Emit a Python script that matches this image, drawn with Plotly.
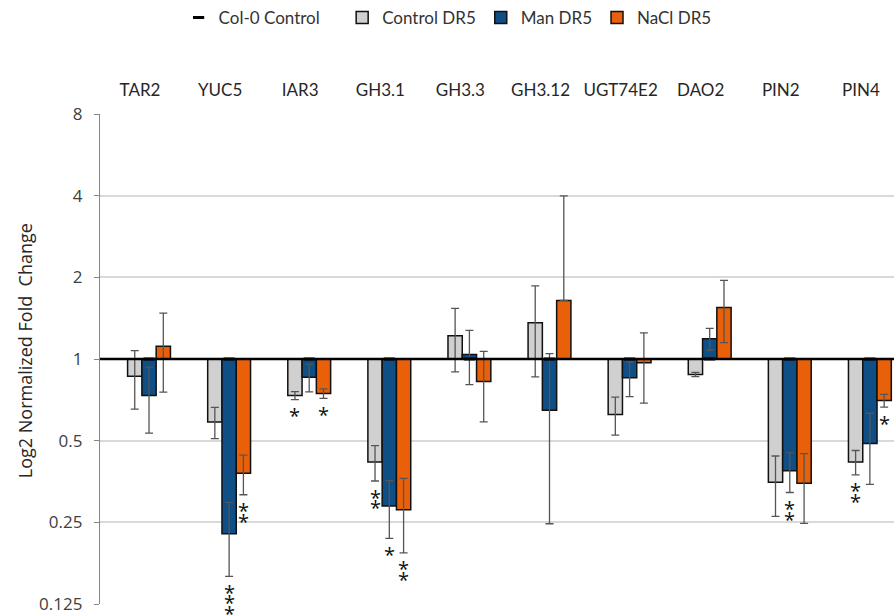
import numpy as np
import plotly.graph_objects as go

# Relative expression of auxin-related genes (fold change vs. Col-0 control)
categories = ["TAR2", "YUC5", "IAR3", "GH3.1", "GH3.3", "GH3.12",
              "UGT74E2", "DAO2", "PIN2", "PIN4"]

col0_control = [1.0, 1.0, 1.0, 1.0, 1.0, 1.0, 1.0, 1.0, 1.0, 1.0]

control_dr5 = [0.864, 0.586, 0.733, 0.417, 1.217, 1.359, 0.624, 0.877, 0.351, 0.417]
control_err = [0.21, 0.077, 0.025, 0.062, 0.32, 0.50, 0.10, 0.016, 0.088, 0.043]

man_dr5 = [0.733, 0.227, 0.857, 0.287, 1.039, 0.647, 0.852, 1.187, 0.387, 0.488]
man_err = [0.20, 0.069, 0.10, 0.069, 0.235, 0.40, 0.125, 0.11, 0.065, 0.143]

nacl_dr5 = [1.115, 0.379, 0.746, 0.278, 0.826, 1.644, 0.968, 1.549, 0.348, 0.703]
nacl_err = [0.36, 0.063, 0.03, 0.085, 0.24, 2.35, 0.28, 0.40, 0.10, 0.038]

# significance marks shown under each bar
sig_control = ["", "", "*", "**", "", "", "", "", "", "**"]
sig_man = ["", "***", "", "*", "", "", "", "", "**", ""]
sig_nacl = ["", "**", "*", "**", "", "", "", "", "", "*"]

y_tick_vals = [0.125, 0.25, 0.5, 1, 2, 4, 8]
y_tick_text = ["0.125", "0.25", "0.5", "1", "2", "4", "8"]
y_title = "Log2 Normalized Fold\u00a0 Change"

BARGAP = 0.465
BAR_W = (1 - BARGAP) / 3
BASE = 1.0

series = [
    ("Control DR5", control_dr5, control_err, sig_control, "#D0D0D0"),
    ("Man DR5", man_dr5, man_err, sig_man, "#0F4F86"),
    ("NaCl DR5", nacl_dr5, nacl_err, sig_nacl, "#E8600A"),
]

fig = go.Figure()

# Col-0 reference level (legend entry; the full-width line is a shape below)
fig.add_trace(go.Scatter(
    x=categories, y=col0_control, mode="markers",
    name="Col-0 Control\u00a0\u00a0\u00a0\u00a0",
    marker=dict(symbol="line-ew", size=8, color="black",
                line=dict(color="black", width=3)),
    hoverinfo="skip",
))

annotations = []
for k, (name, vals, errs, sig, color) in enumerate(series):
    v = np.array(vals)
    e = np.array(errs)
    # lower whisker cannot go below zero on a log axis
    e_minus = np.where(v - e > 0, e, 0.0)
    fig.add_trace(go.Bar(
        x=categories, y=v - BASE, base=BASE, name=name,
        marker=dict(color=color, line=dict(color="#111111", width=1.5)),
        error_y=dict(type="data", symmetric=False, array=e, arrayminus=e_minus,
                     color="#555555", thickness=1.3, width=4),
        customdata=v, hovertemplate="%{x}: %{customdata}<extra>" + name + "</extra>",
    ))
    offset = (k - 1) * BAR_W
    for i, s in enumerate(sig):
        low = v[i] - e_minus[i]
        for j in range(len(s)):
            annotations.append(dict(
                x=i + offset, y=np.log10(low), xref="x", yref="y",
                text="*", showarrow=False, yanchor="middle",
                yshift=-16 - 10.5 * j,
                font=dict(family="Open Sans", size=20, color="#111111"),
            ))

# y-axis title
annotations.append(dict(
    x=-0.0945, y=0.518, xref="paper", yref="paper", text=y_title,
    textangle=-90, showarrow=False, xanchor="center", yanchor="middle",
    font=dict(family="Open Sans", size=18, color="#262626"),
))

fig.add_shape(type="line", xref="paper", x0=0, x1=1, yref="y",
              y0=col0_control[0], y1=col0_control[0],
              line=dict(color="black", width=2.5), layer="above")

fig.update_layout(
    width=894, height=615,
    margin=dict(l=100, r=0, t=114, b=11, autoexpand=False),
    paper_bgcolor="white", plot_bgcolor="white",
    barmode="group", bargap=BARGAP, bargroupgap=0,
    annotations=annotations,
    legend=dict(orientation="h", x=0.099, y=1.196, xanchor="left", yanchor="middle",
                font=dict(family="Lato", size=17, color="#333333"),
                bgcolor="rgba(0,0,0,0)", traceorder="normal"),
    xaxis=dict(
        type="category", side="top", range=[-0.612, 9.301],
        showgrid=False, showline=False, zeroline=False, ticks="",
        ticklabelstandoff=14, ticklabelshift=-9,
        tickfont=dict(family="Lato", size=17, color="#262626"),
    ),
    yaxis=dict(
        type="log", range=[np.log10(0.125), np.log10(8)],
        tickvals=y_tick_vals, ticktext=y_tick_text,
        showgrid=True, gridcolor="#D9D9D9", gridwidth=1.5,
        showline=True, linecolor="#868686", linewidth=1.3,
        ticks="outside", ticklen=5, tickcolor="#868686", tickwidth=1.3,
        ticklabelstandoff=8,
        tickfont=dict(family="Open Sans", size=17, color="#404040"),
        automargin=False,
    ),
)

fig.write_html("out.html")
